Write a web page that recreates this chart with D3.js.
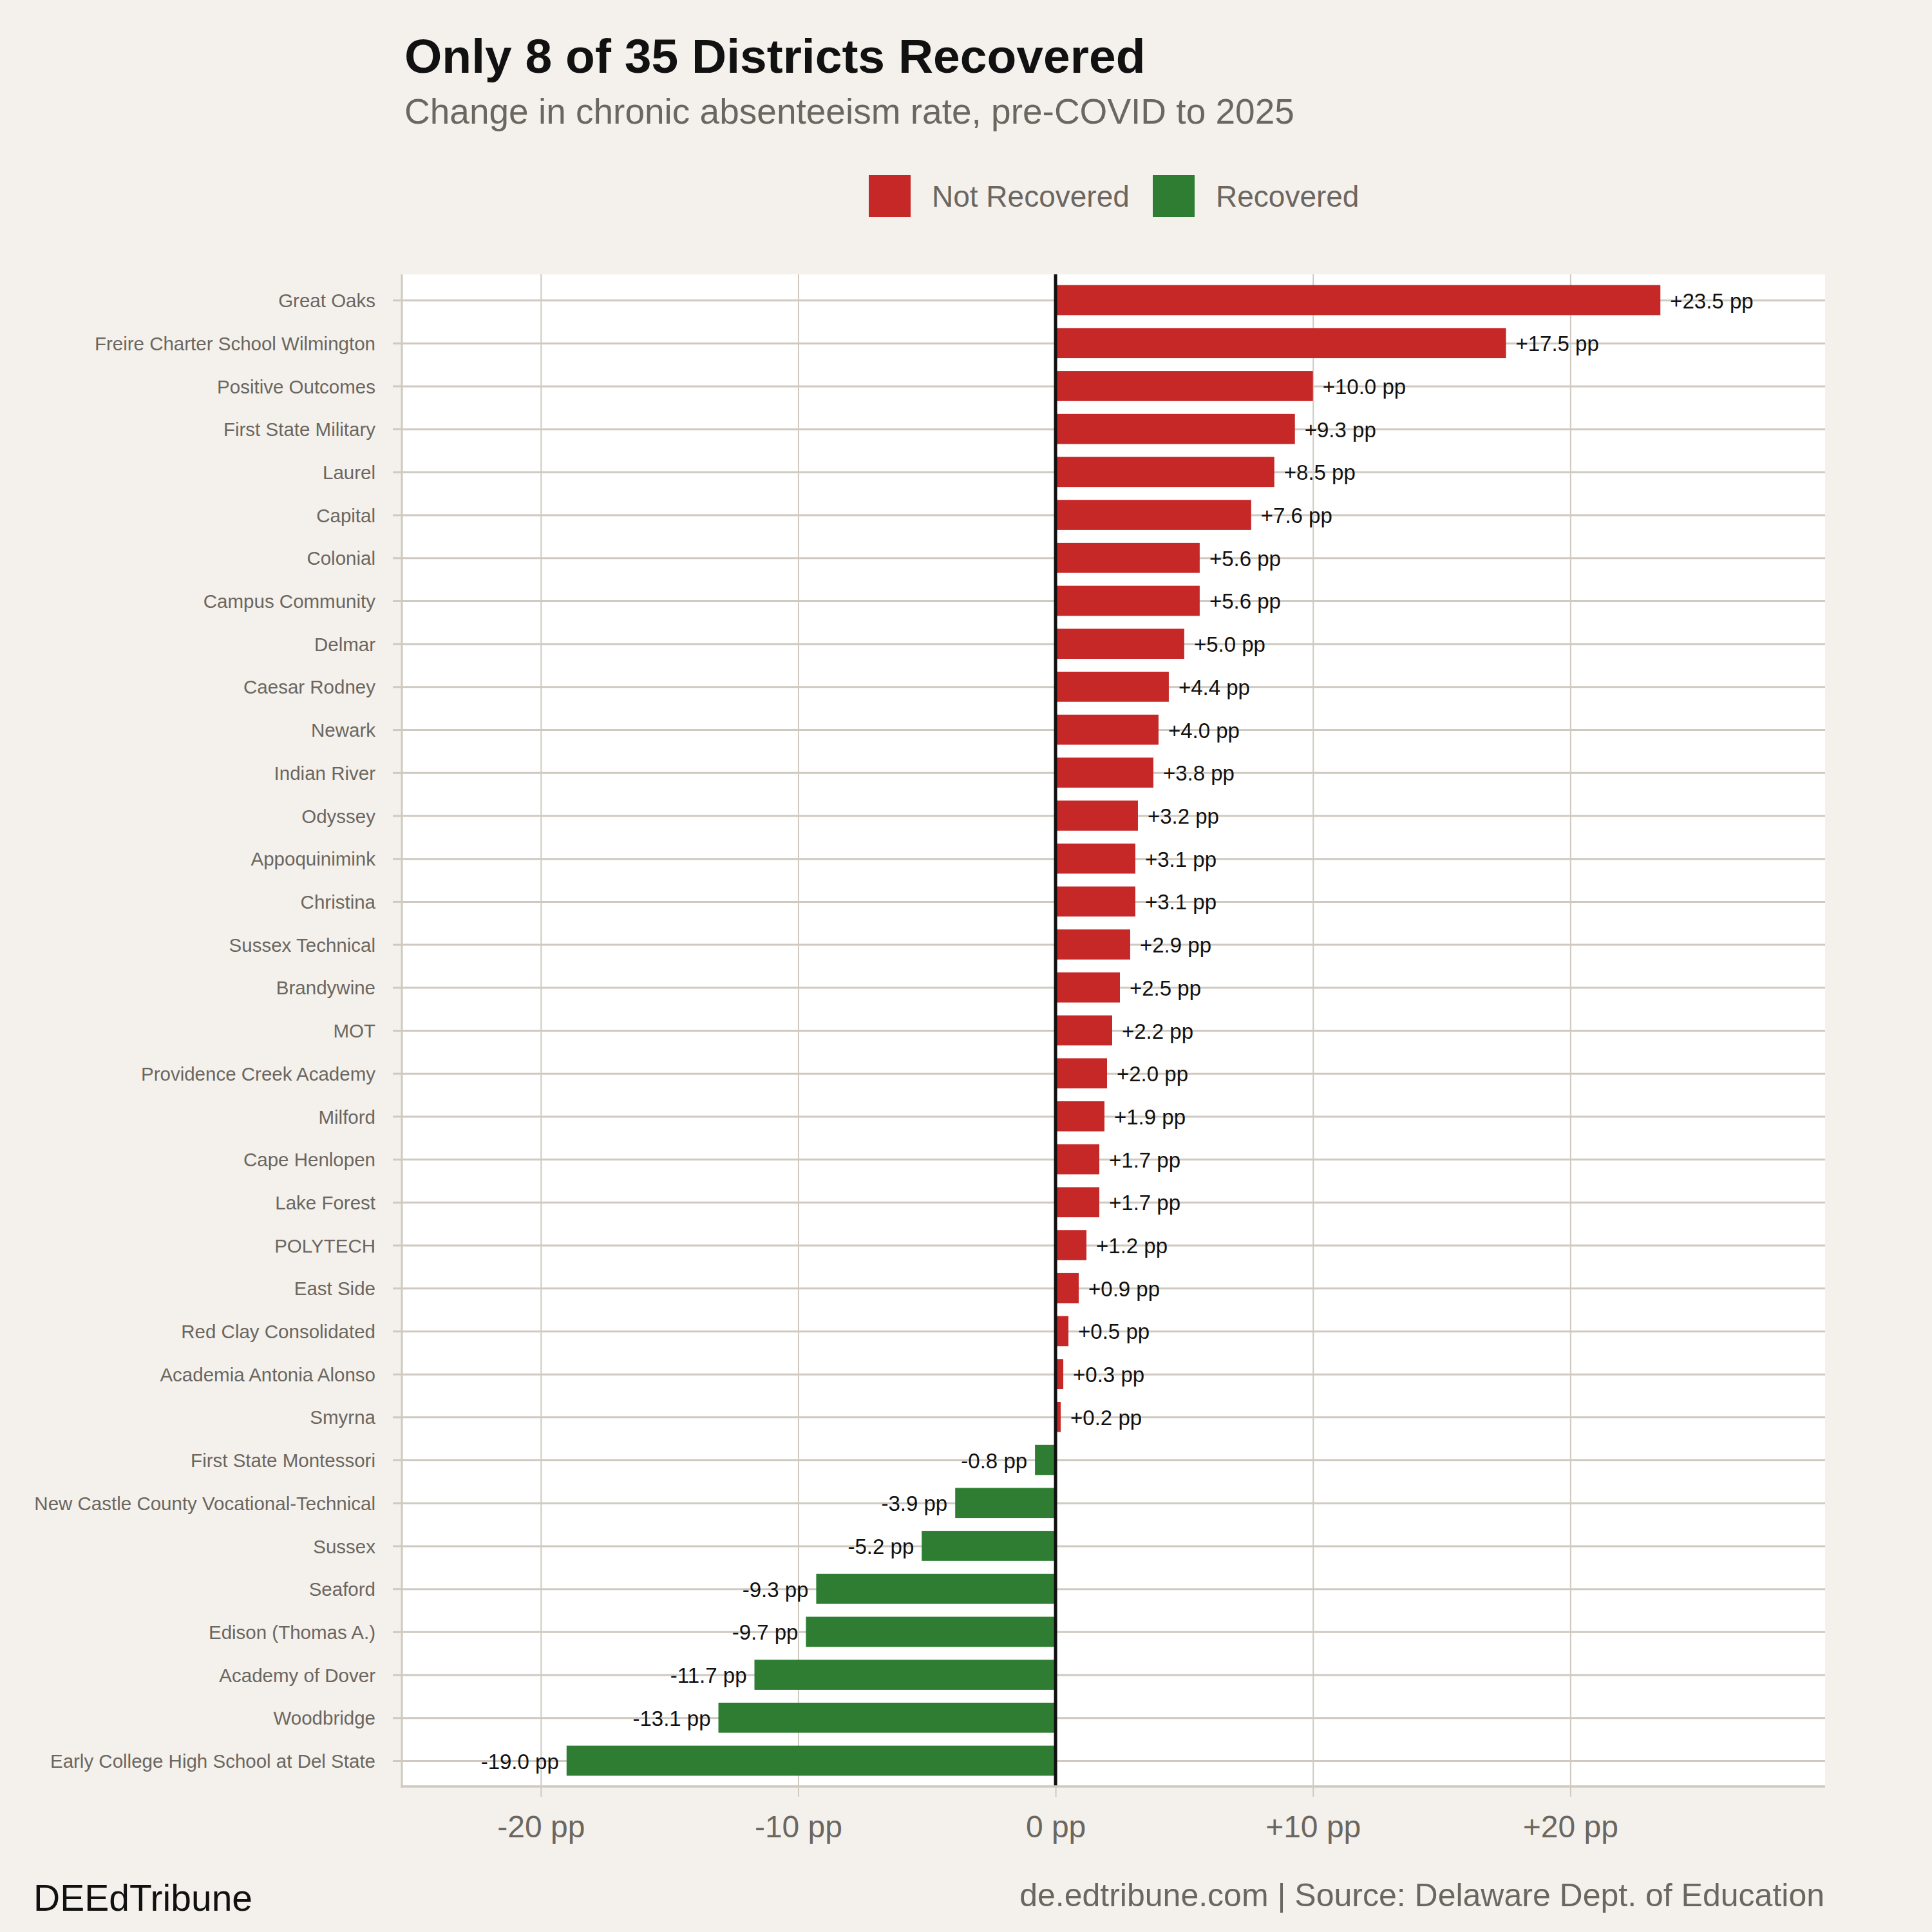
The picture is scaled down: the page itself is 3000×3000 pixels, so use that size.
<!DOCTYPE html>
<html>
<head>
<meta charset="utf-8">
<script src="https://cdn.jsdelivr.net/npm/d3@7"></script>
<style>
  body { margin: 0; background: #f4f1ec; }
  svg { display: block; font-family: "Liberation Sans", Arial, Helvetica, sans-serif; }
</style>
</head>
<body>
<svg id="chart"></svg>
<script>
// districts, top to bottom
const districts = [
  "Great Oaks", "Freire Charter School Wilmington", "Positive Outcomes", "First State Military",
  "Laurel", "Capital", "Colonial", "Campus Community", "Delmar", "Caesar Rodney", "Newark",
  "Indian River", "Odyssey", "Appoquinimink", "Christina", "Sussex Technical", "Brandywine",
  "MOT", "Providence Creek Academy", "Milford", "Cape Henlopen", "Lake Forest", "POLYTECH",
  "East Side", "Red Clay Consolidated", "Academia Antonia Alonso", "Smyrna",
  "First State Montessori", "New Castle County Vocational-Technical", "Sussex", "Seaford",
  "Edison (Thomas A.)", "Academy of Dover", "Woodbridge", "Early College High School at Del State"
];
// change in chronic absenteeism rate, percentage points
const change = [
  23.5, 17.5, 10.0, 9.3, 8.5, 7.6, 5.6, 5.6, 5.0, 4.4, 4.0,
  3.8, 3.2, 3.1, 3.1, 2.9, 2.5, 2.2, 2.0, 1.9, 1.7, 1.7, 1.2,
  0.9, 0.5, 0.3, 0.2,
  -0.8, -3.9, -5.2, -9.3, -9.7, -11.7, -13.1, -19.0
];
const xTicks = [-20, -10, 0, 10, 20];
const groups = ["Not Recovered", "Recovered"];
const groupColors = ["#c62828", "#2e7d32"];

const W = 3000, H = 3000;
const panel = { left: 624, right: 2834, top: 426, bottom: 2774 };
const grid = "#cfc9c0", textGray = "#6b6660";

const data = districts.map((d, i) => ({ name: d, value: change[i] }));

const svg = d3.select("#chart").attr("width", W).attr("height", H);
svg.append("rect").attr("width", W).attr("height", H).attr("fill", "#f4f1ec");

const x = d3.scaleLinear().domain([-25.4, 29.9]).range([panel.left, panel.right]);
const y = d3.scalePoint().domain(districts).range([panel.top, panel.bottom]).padding(0.6);
const color = d3.scaleOrdinal().domain(groups).range(groupColors);
const barH = y.step() * 0.7;

const fmtTick = d => (d > 0 ? "+" : "") + d + " pp";
const fmtVal = v => (v > 0 ? "+" : "") + v.toFixed(1) + " pp";

// title block
svg.append("text").attr("x", 628).attr("y", 113)
  .attr("font-size", 75).attr("font-weight", "bold").attr("fill", "#111")
  .text("Only 8 of 35 Districts Recovered");
svg.append("text").attr("x", 628).attr("y", 192)
  .attr("font-size", 55).attr("fill", textGray)
  .text("Change in chronic absenteeism rate, pre-COVID to 2025");

// legend
const legendX = [1349, 1790];
const legend = svg.append("g");
groups.forEach((g, i) => {
  legend.append("rect").attr("x", legendX[i]).attr("y", 272)
    .attr("width", 65).attr("height", 65).attr("fill", color(g));
  legend.append("text").attr("x", legendX[i] + 98).attr("y", 321)
    .attr("font-size", 46).attr("fill", textGray).text(g);
});

// panel
svg.append("rect")
  .attr("x", panel.left).attr("y", panel.top)
  .attr("width", panel.right - panel.left).attr("height", panel.bottom - panel.top)
  .attr("fill", "#fff");

// vertical grid + bottom ticks
const xAxis = svg.append("g")
  .attr("transform", `translate(0,${panel.bottom})`)
  .call(d3.axisBottom(x).tickValues(xTicks).tickFormat(fmtTick).tickSize(16).tickPadding(0));
xAxis.select(".domain").remove();
xAxis.selectAll(".tick line").clone()
  .attr("y1", 0).attr("y2", panel.top - panel.bottom);
xAxis.selectAll(".tick line").attr("stroke", grid).attr("stroke-width", 2);
xAxis.selectAll(".tick text")
  .attr("y", 79).attr("dy", 0)
  .attr("font-size", 48).attr("fill", textGray).attr("font-family", null);

// horizontal grid + left ticks
const yAxis = svg.append("g")
  .attr("transform", `translate(${panel.left},0)`)
  .call(d3.axisLeft(y).tickSize(14).tickPadding(27));
yAxis.select(".domain").remove();
yAxis.selectAll(".tick line").clone()
  .attr("x1", 0).attr("x2", panel.right - panel.left);
yAxis.selectAll(".tick line").attr("stroke", grid).attr("stroke-width", 3);
yAxis.selectAll(".tick text")
  .attr("font-size", 29.5).attr("fill", textGray).attr("font-family", null)
  .attr("dy", "0.36em");

// bars
svg.append("g").selectAll("rect")
  .data(data)
  .join("rect")
  .attr("x", d => x(Math.min(0, d.value)))
  .attr("width", d => Math.abs(x(d.value) - x(0)))
  .attr("y", d => y(d.name) - barH / 2)
  .attr("height", barH)
  .attr("fill", d => color(d.value < 0 ? "Recovered" : "Not Recovered"));

// value labels
svg.append("g").selectAll("text")
  .data(data)
  .join("text")
  .attr("x", d => d.value < 0 ? x(d.value) - 12 : x(d.value) + 15)
  .attr("y", d => y(d.name))
  .attr("dy", "0.38em")
  .attr("text-anchor", d => d.value < 0 ? "end" : "start")
  .attr("font-size", 33).attr("fill", "#111")
  .text(d => fmtVal(d.value));

// zero line
svg.append("line")
  .attr("x1", x(0)).attr("x2", x(0))
  .attr("y1", panel.top).attr("y2", panel.bottom)
  .attr("stroke", "#111").attr("stroke-width", 5);

// axis lines
svg.append("line")
  .attr("x1", panel.left).attr("x2", panel.left)
  .attr("y1", panel.top).attr("y2", panel.bottom + 1.5)
  .attr("stroke", grid).attr("stroke-width", 3);
svg.append("line")
  .attr("x1", panel.left - 1.5).attr("x2", panel.right)
  .attr("y1", panel.bottom).attr("y2", panel.bottom)
  .attr("stroke", grid).attr("stroke-width", 3.5);

// footer
svg.append("text").attr("x", 52).attr("y", 2967)
  .attr("font-size", 57).attr("fill", "#111").text("DEEdTribune");
svg.append("text").attr("x", 2833).attr("y", 2960)
  .attr("text-anchor", "end").attr("font-size", 50).attr("fill", textGray)
  .text("de.edtribune.com | Source: Delaware Dept. of Education");
</script>
</body>
</html>
